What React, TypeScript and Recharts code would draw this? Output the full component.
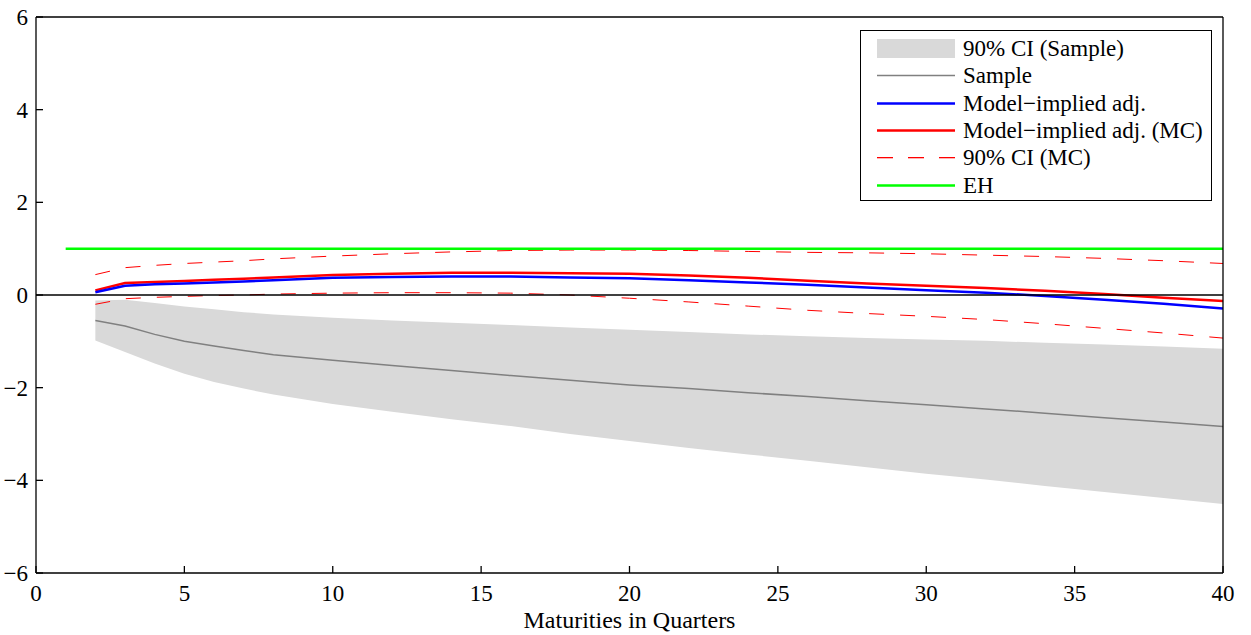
import {
  Area,
  ComposedChart,
  Line,
  ReferenceLine,
  XAxis,
  YAxis,
} from 'recharts';

// maturities (quarters)
const quarters = [1, 2, 3, 4, 5, 6, 7, 8, 10, 12, 14, 16, 18, 20, 22, 24, 26, 28, 30, 32, 34, 36, 38, 40];

const sample = [null, -0.55, -0.67, -0.85, -1.0, -1.1, -1.2, -1.29, -1.41, -1.52, -1.63, -1.74, -1.84, -1.94, -2.02, -2.11, -2.19, -2.28, -2.37, -2.46, -2.55, -2.65, -2.74, -2.84];
const ciSampleHi = [null, -0.12, -0.1, -0.17, -0.25, -0.31, -0.37, -0.42, -0.49, -0.55, -0.6, -0.65, -0.7, -0.75, -0.8, -0.85, -0.89, -0.93, -0.96, -0.99, -1.03, -1.07, -1.11, -1.16];
const ciSampleLo = [null, -0.98, -1.23, -1.48, -1.7, -1.88, -2.02, -2.15, -2.35, -2.52, -2.68, -2.83, -3.0, -3.15, -3.3, -3.44, -3.58, -3.72, -3.86, -3.98, -4.12, -4.25, -4.38, -4.51];
const modelAdj = [null, 0.06, 0.2, 0.23, 0.25, 0.27, 0.29, 0.32, 0.37, 0.39, 0.4, 0.4, 0.38, 0.36, 0.32, 0.27, 0.22, 0.16, 0.1, 0.05, -0.02, -0.1, -0.19, -0.29];
const modelAdjMC = [null, 0.1, 0.26, 0.28, 0.3, 0.33, 0.35, 0.38, 0.43, 0.46, 0.48, 0.48, 0.47, 0.46, 0.42, 0.37, 0.31, 0.25, 0.2, 0.15, 0.09, 0.02, -0.06, -0.13];
const ciMCHi = [null, 0.44, 0.59, 0.64, 0.68, 0.71, 0.74, 0.78, 0.84, 0.89, 0.93, 0.96, 0.97, 0.97, 0.96, 0.94, 0.92, 0.91, 0.89, 0.86, 0.83, 0.79, 0.74, 0.68];
const ciMCLo = [null, -0.2, -0.08, -0.05, -0.03, -0.01, 0.0, 0.02, 0.04, 0.05, 0.05, 0.04, 0.0, -0.07, -0.15, -0.24, -0.33, -0.4, -0.46, -0.53, -0.62, -0.72, -0.82, -0.93];
const eh = quarters.map(() => 1);

const xTicks = [0, 5, 10, 15, 20, 25, 30, 35, 40];
const yTicks = [-6, -4, -2, 0, 2, 4, 6];

const legendLabels = [
  '90% CI (Sample)',
  'Sample',
  'Model\u2212implied adj.',
  'Model\u2212implied adj. (MC)',
  '90% CI (MC)',
  'EH',
];

const data = quarters.map((q, i) => ({
  q,
  band: ciSampleLo[i] == null ? null : [ciSampleLo[i], ciSampleHi[i]],
  sample: sample[i],
  adj: modelAdj[i],
  adjMC: modelAdjMC[i],
  mcHi: ciMCHi[i],
  mcLo: ciMCLo[i],
  eh: eh[i],
}));

const FONT = '"Liberation Serif", "Times New Roman", serif';
const minus = (v: number) => String(v).replace('-', '\u2212');

const swatchStyles = [
  null,
  { stroke: '#808080', w: 1.5 },
  { stroke: '#0000ff', w: 2.5 },
  { stroke: '#ff0000', w: 2.5 },
  null,
  { stroke: '#00ff00', w: 2.5 },
];

function XTick(props: any) {
  const { x, y, payload } = props;
  return (
    <text x={x} y={y + 17} textAnchor='middle' fill='#000' style={{ fontFamily: FONT, fontSize: 23 }}>
      {minus(payload.value)}
    </text>
  );
}

function YTick(props: any) {
  const { x, y, payload } = props;
  return (
    <text x={x} y={y + 8} textAnchor='end' fill='#000' style={{ fontFamily: FONT, fontSize: 23 }}>
      {minus(payload.value)}
    </text>
  );
}

function Swatch({ i }: { i: number }) {
  if (i === 0) return <rect x={0} y={4} width={78} height={19} fill='#d9d9d9' />;
  if (i === 4) {
    return (
      <g fill='#ff0000'>
        <rect x={0} y={13} width={16} height={1.3} />
        <rect x={31} y={13} width={16} height={1.3} />
        <rect x={62} y={13} width={16} height={1.3} />
      </g>
    );
  }
  const s = swatchStyles[i]!;
  return <line x1={0} x2={78} y1={13.5} y2={13.5} stroke={s.stroke} strokeWidth={s.w} />;
}

function LegendBox() {
  return (
    <div
      style={{
        position: 'absolute',
        left: 860,
        top: 30,
        width: 350,
        height: 165,
        border: '1.3px solid #000',
        background: '#fff',
        paddingTop: 4,
        fontFamily: FONT,
        fontSize: 23,
        color: '#000',
      }}
    >
      {legendLabels.map((label, i) => (
        <div key={label} style={{ display: 'flex', alignItems: 'center', height: 27.3 }}>
          <svg width={78} height={27} style={{ marginLeft: 16, marginRight: 8 }}>
            <Swatch i={i} />
          </svg>
          <span style={{ lineHeight: '27px', whiteSpace: 'nowrap' }}>{label}</span>
        </div>
      ))}
    </div>
  );
}

export default function App() {
  const axisStroke = { stroke: '#000', strokeWidth: 1.3 };
  return (
    <div
      style={{
        position: 'absolute',
        left: 0,
        top: 0,
        width: 1251,
        height: 635,
        background: '#fff',
        fontFamily: FONT,
      }}
    >
      <ComposedChart
        width={1251}
        height={635}
        data={data}
        margin={{ top: 16, right: 27, left: 0, bottom: 0 }}
        style={{ fontFamily: FONT }}
      >
        <XAxis
          dataKey='q'
          type='number'
          domain={[0, 40]}
          ticks={xTicks}
          allowDataOverflow
          height={62}
          tickSize={-7}
          tickMargin={18}
          tick={<XTick />}
          axisLine={axisStroke}
          tickLine={axisStroke}
          label={{
            value: 'Maturities in Quarters',
            position: 'insideBottom',
            offset: 7,
            style: { fontSize: 24, fill: '#000', fontFamily: FONT },
          }}
        />
        <XAxis
          xAxisId='top'
          orientation='top'
          dataKey='q'
          type='number'
          domain={[0, 40]}
          ticks={xTicks}
          allowDataOverflow
          height={1}
          tickSize={-7}
          tick={false}
          axisLine={axisStroke}
          tickLine={axisStroke}
        />
        <YAxis
          type='number'
          domain={[-6, 6]}
          ticks={yTicks}
          allowDataOverflow
          width={36}
          tickSize={-7}
          tickMargin={15}
          tick={<YTick />}
          axisLine={axisStroke}
          tickLine={axisStroke}
        />
        <YAxis
          yAxisId='right'
          orientation='right'
          type='number'
          domain={[-6, 6]}
          ticks={yTicks}
          allowDataOverflow
          width={1}
          tickSize={-7}
          tick={false}
          axisLine={axisStroke}
          tickLine={axisStroke}
        />
        <Area
          dataKey='band'
          type='linear'
          stroke='none'
          fill='#d9d9d9'
          fillOpacity={1}
          isAnimationActive={false}
        />
        <Line dataKey='sample' type='linear' stroke='#808080' strokeWidth={1.5} dot={false} isAnimationActive={false} />
        <Line dataKey='mcHi' type='linear' stroke='#ff0000' strokeWidth={1} strokeDasharray='15 16' dot={false} isAnimationActive={false} />
        <Line dataKey='mcLo' type='linear' stroke='#ff0000' strokeWidth={1} strokeDasharray='15 16' dot={false} isAnimationActive={false} />
        <Line dataKey='eh' type='linear' stroke='#00ff00' strokeWidth={2.5} dot={false} isAnimationActive={false} />
        <Line dataKey='adjMC' type='linear' stroke='#ff0000' strokeWidth={2.5} dot={false} isAnimationActive={false} />
        <Line dataKey='adj' type='linear' stroke='#0000ff' strokeWidth={2.5} dot={false} isAnimationActive={false} />
        <ReferenceLine y={0} stroke='#000' strokeWidth={1.5} />
      </ComposedChart>
      <LegendBox />
    </div>
  );
}
